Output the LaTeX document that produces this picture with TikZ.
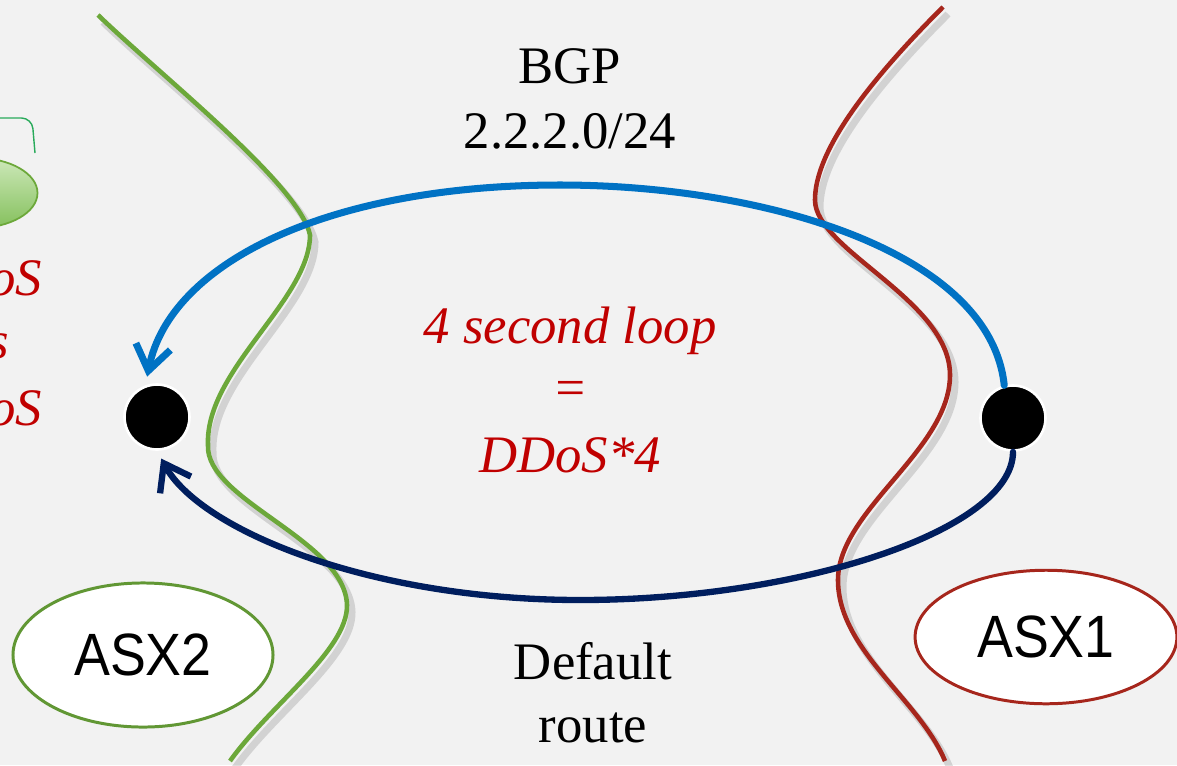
\documentclass[tikz,border=0pt]{standalone}
\usepackage{fontspec}
\setmainfont{Liberation Serif}
\newfontfamily\asxfont{Liberation Sans}
\usetikzlibrary{arrows.meta,shapes.geometric}

\definecolor{bgcol}{RGB}{242,242,242}
\definecolor{asgreen}{RGB}{108,168,58}
\definecolor{asred}{RGB}{166,38,28}
\definecolor{bgpblue}{RGB}{0,114,196}
\definecolor{defnavy}{RGB}{0,30,94}
\definecolor{loopred}{RGB}{192,0,0}
\definecolor{bracegreen}{RGB}{40,170,90}

\tikzset{
  border/.style={line width=2.6pt},
  bordershadow/.style={line width=4pt, black, opacity=0.13},
  dot/.style={circle, fill=black, draw=white, line width=1.5pt, minimum size=37pt, inner sep=0pt},
  asxbox/.style={ellipse, fill=white, line width=1.7pt, inner sep=0pt, font=\asxfont\fontsize{34}{40}\selectfont},
  lbl/.style={anchor=base, font=\fontsize{30}{36}\selectfont},
  redlbl/.style={anchor=base, text=loopred, font=\fontsize{30}{36}\selectfont\itshape},
  route/.style={line width=4pt, line cap=round, -{Straight Barb[length=14pt,width=20pt]}, shorten >=5pt}
}

\begin{document}
\begin{tikzpicture}[x=0.02cm, y=-0.02cm]
	\fill[bgcol] (0,0) rectangle (1177,765);
	\clip (0,0) rectangle (1177,765);

	% left edge, cut off
	\node[ellipse, draw=asgreen, line width=1pt, top color={rgb,255:red,205;green,232;blue,185}, bottom color={rgb,255:red,132;green,192;blue,92}, minimum width=70pt, minimum height=40pt] (grp) at (-24,193) {};
	\draw[bracegreen, line width=0.8pt, rounded corners=6pt] (-10,118) -- (32,118) -- (35,153);
	\node[redlbl, anchor=base east] (cut1) at (48,295) {oS};
	\node[redlbl, anchor=base east] (cut2) at (15,358) {s};
	\node[redlbl, anchor=base east] (cut3) at (48,425) {oS};

	% AS borders
	\draw[bordershadow, shift={(5,7)}] (98,15) .. controls (160,75) and (300,185) .. (310,235) .. controls (310,300) and (205,370) .. (208,445) .. controls (205,500) and (345,540) .. (347,605) .. controls (348,650) and (270,705) .. (230,761);
	\draw[border, asgreen] (98,15) .. controls (160,75) and (300,185) .. (310,235) .. controls (310,300) and (205,370) .. (208,445) .. controls (205,500) and (345,540) .. (347,605) .. controls (348,650) and (270,705) .. (230,761);
	\draw[bordershadow, shift={(5,7)}] (943,7) .. controls (870,80) and (815,150) .. (815,200) .. controls (815,250) and (950,300) .. (950,375) .. controls (950,450) and (838,510) .. (838,580) .. controls (838,650) and (920,700) .. (945,761);
	\draw[border, asred] (943,7) .. controls (870,80) and (815,150) .. (815,200) .. controls (815,250) and (950,300) .. (950,375) .. controls (950,450) and (838,510) .. (838,580) .. controls (838,650) and (920,700) .. (945,761);

	% routers
	\node[dot] (dL) at (157,417) {};
	\node[dot] (dR) at (1013,418) {};

	% routes
	\draw[route, bgpblue] (dR.105) .. controls (990,250) and (760,185) .. (560,185) .. controls (330,185) and (170,262) .. (dL.110);
	\draw[route, defnavy, line width=3.6pt] (dR.south) .. controls (1013,530) and (800,600) .. (580,600) .. controls (370,600) and (200,530) .. (dL.south);

	% labels
	\node[lbl] (bgp) at (570,83) {BGP};
	\node[lbl] (prefix) at (570,148) {2.2.2.0/24};
	\node[redlbl] (loop) at (570,343) {4 second loop};
	\node[redlbl] (eq) at (570,405) {=};
	\node[redlbl] (ddos) at (570,472) {DDoS*4};
	\node[lbl] (def) at (593,679) {Default};
	\node[lbl] (rt) at (593,742) {route};

	% AS names
	\node[asxbox, draw=asgreen!90!black, minimum width=148pt, minimum height=82pt] (asx2) at (143,655) {\scalebox{0.9}[1]{ASX2}};
	\node[asxbox, draw=asred, minimum width=149pt, minimum height=76pt] (asx1) at (1046,637) {\scalebox{0.9}[1]{ASX1}};
\end{tikzpicture}
\end{document}
